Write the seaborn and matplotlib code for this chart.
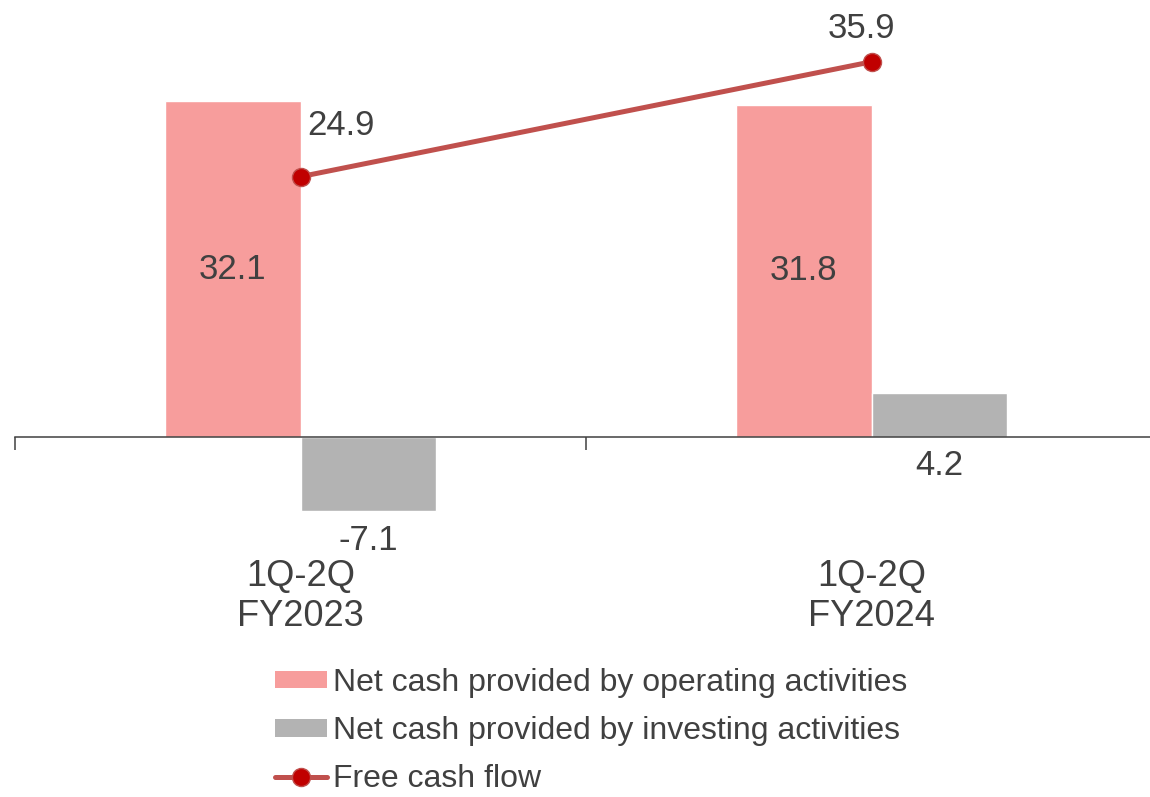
import seaborn as sns
import pandas as pd
import matplotlib.pyplot as plt
from matplotlib.patches import Patch
from matplotlib.lines import Line2D

# 数据
periods = ["1Q-2Q\nFY2023", "1Q-2Q\nFY2024"]
operating = [32.1, 31.8]
investing = [-7.1, 4.2]
free_cash_flow = [24.9, 35.9]
series_names = ["Net cash provided by operating activities",
                "Net cash provided by investing activities",
                "Free cash flow"]

pink = "#F79D9C"
gray = "#B3B3B3"
line_red = "#C0504D"
dot_red = "#C00000"
text_col = "#404040"

sns.set_theme(style="white")
plt.rcParams['font.family'] = ['Liberation Sans', 'DejaVu Sans']

# 长表
df = pd.DataFrame({
    "period": periods * 2,
    "value": operating + investing,
    "series": [series_names[0]] * 2 + [series_names[1]] * 2,
})

fig = plt.figure(figsize=(11.5, 7.97), dpi=100)
ax = fig.add_axes([15 / 1150, 0.321, 1142 / 1150, 0.629])

sns.barplot(data=df, x="period", y="value", hue="series", order=periods,
            hue_order=series_names[:2], palette=[pink, gray], width=0.476,
            saturation=1, legend=False, ax=ax)

# 折线：自由现金流
sns.pointplot(x=periods, y=free_cash_flow, order=periods, color=line_red,
              markers="o", ax=ax)
for ln in ax.lines:
    ln.set_linewidth(3.6)
    ln.set_markersize(13)
    ln.set_markerfacecolor(dot_red)
    ln.set_markeredgecolor(line_red)
    ln.set_markeredgewidth(1)
    ln.set_zorder(5)

ax.set_xlim(-0.5, 1.5)
ax.set_ylim(-10, 38)

# 数据标签
op_bars = ax.containers[0]
inv_bars = ax.containers[1]
ax.bar_label(op_bars, labels=[f"{v:.1f}" for v in operating], label_type="center",
             fontsize=25, color=text_col)
for rect, v in zip(inv_bars, investing):
    ax.annotate(f"{v:.1f}", xy=(rect.get_x() + rect.get_width() / 2, min(v, 0)),
                xytext=(0, -21), textcoords="offset points", ha="center", va="center",
                fontsize=25, color=text_col)
offsets = [(29, 37), (-7, 24)]
for i, v in enumerate(free_cash_flow):
    ax.annotate(f"{v:.1f}", xy=(i, v), xytext=offsets[i], textcoords="offset points",
                ha="center", va="center", fontsize=25, color=text_col)

# 坐标轴
for s in ["top", "right", "left"]:
    ax.spines[s].set_visible(False)
ax.spines["bottom"].set_position(("data", 0))
ax.spines["bottom"].set_color(text_col)
ax.spines["bottom"].set_linewidth(1.1)
ax.set_yticks([])
ax.set_xticks([-0.5, 0.5, 1.5], labels=["", "", ""])
ax.set_xticks([0, 1], labels=periods, minor=True)
ax.tick_params(axis="x", which="major", direction="out", length=9.5, width=1.1,
               color=text_col, bottom=True)
ax.tick_params(axis="x", which="minor", length=0, pad=88, labelsize=26,
               labelcolor=text_col)
ax.set_xlabel("")
ax.set_ylabel("")

# 图例
handles = [
    Patch(facecolor=pink, edgecolor="none"),
    Patch(facecolor=gray, edgecolor="none"),
    Line2D([0], [0], color=line_red, lw=3.6, marker="o", markersize=13,
           markerfacecolor=dot_red, markeredgecolor=line_red),
]
fig.legend(handles, series_names, loc="upper left", bbox_to_anchor=(275 / 1150, 0.162),
           frameon=False, fontsize=23, labelcolor=text_col, handlelength=1.63,
           handleheight=0.47, handletextpad=0.19, labelspacing=0.57, borderpad=0,
           borderaxespad=0)

fig.savefig("out.png", dpi=100)
